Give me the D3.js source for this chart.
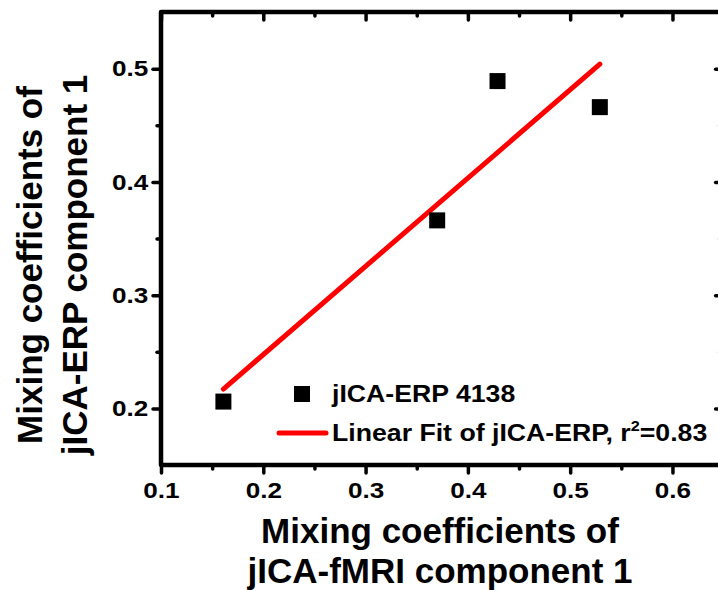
<!DOCTYPE html>
<html>
<head>
<meta charset="utf-8">
<script src="https://cdn.jsdelivr.net/npm/d3@7"></script>
<style>
  body { margin: 0; background: #fff; }
  svg { display: block; font-family: "Liberation Sans", Arial, sans-serif; font-weight: bold; }
</style>
</head>
<body>
<div class="chart"></div>
<script>
// data points
const xVals = [0.161, 0.370, 0.429, 0.529];
const yVals = [0.206, 0.366, 0.489, 0.466];

// ticks
const xMajor = [0.1, 0.2, 0.3, 0.4, 0.5, 0.6];
const xMinor = [0.15, 0.25, 0.35, 0.45, 0.55];
const yMajor = [0.2, 0.3, 0.4, 0.5];
const yMinor = [0.25, 0.35, 0.45];

const seriesName = "jICA-ERP 4138";
const fitName = "Linear Fit of jICA-ERP, r";
const fitR2 = "=0.83";

const width = 718, height = 590;
const x = d3.scaleLinear().domain([0.1, 0.65]).range([161, 723.6]);
const y = d3.scaleLinear().domain([0.15, 0.55]).range([465, 12]);
const stretch = 1.16; // labels in the original are a bit wide

const svg = d3.select(".chart").append("svg")
    .attr("width", width)
    .attr("height", height);

// least squares fit
const n = xVals.length;
const mx = d3.mean(xVals), my = d3.mean(yVals);
let sxy = 0, sxx = 0;
for (let i = 0; i < n; i++) {
    sxy += (xVals[i] - mx) * (yVals[i] - my);
    sxx += (xVals[i] - mx) * (xVals[i] - mx);
}
const slope = sxy / sxx, icpt = my - slope * mx;
const fitX = d3.extent(xVals);

// axes
function styleAxis(g, w) {
    g.select(".domain").remove();
    g.selectAll(".tick line").attr("stroke", "#000").attr("stroke-width", w).attr("stroke-linecap", "round");
    g.selectAll(".tick text").attr("fill", "#000")
        .style("font-size", "22.5px").style("font-weight", "bold")
        .attr("transform", `scale(${stretch},1)`);
}

// bottom
svg.append("g").attr("transform", `translate(0,${y.range()[0]})`)
    .call(d3.axisBottom(x).tickValues(xMajor).tickSize(8).tickPadding(9).tickFormat(d3.format(".1f")))
    .call(g => styleAxis(g, 3.5));
svg.append("g").attr("transform", `translate(0,${y.range()[0]})`)
    .call(d3.axisBottom(x).tickValues(xMinor).tickSize(4).tickFormat(""))
    .call(g => styleAxis(g, 3.5));
// top
svg.append("g").attr("transform", `translate(0,${y.range()[1]})`)
    .call(d3.axisTop(x).tickValues(xMajor).tickSize(-8).tickFormat(""))
    .call(g => styleAxis(g, 3.5));
svg.append("g").attr("transform", `translate(0,${y.range()[1]})`)
    .call(d3.axisTop(x).tickValues(xMinor).tickSize(-4).tickFormat(""))
    .call(g => styleAxis(g, 3.5));
// left
svg.append("g").attr("transform", `translate(${x.range()[0]},0)`)
    .call(d3.axisLeft(y).tickValues(yMajor).tickSize(8).tickPadding(3).tickFormat(d3.format(".1f")))
    .call(g => styleAxis(g, 3.5));
svg.append("g").attr("transform", `translate(${x.range()[0]},0)`)
    .call(d3.axisLeft(y).tickValues(yMinor).tickSize(4).tickFormat(""))
    .call(g => styleAxis(g, 3.5));
// right
svg.append("g").attr("transform", `translate(${x.range()[1]},0)`)
    .call(d3.axisRight(y).tickValues(yMajor).tickSize(-8).tickFormat(""))
    .call(g => styleAxis(g, 3.5));
svg.append("g").attr("transform", `translate(${x.range()[1]},0)`)
    .call(d3.axisRight(y).tickValues(yMinor).tickSize(-4).tickFormat(""))
    .call(g => styleAxis(g, 3.5));

// frame
svg.append("rect")
    .attr("x", x.range()[0]).attr("y", y.range()[1])
    .attr("width", x.range()[1] - x.range()[0])
    .attr("height", y.range()[0] - y.range()[1])
    .attr("fill", "none").attr("stroke", "#000").attr("stroke-width", 4.5)
    .attr("stroke-linejoin", "round");

// fit line
svg.append("line")
    .attr("x1", x(fitX[0])).attr("y1", y(icpt + slope * fitX[0]))
    .attr("x2", x(fitX[1])).attr("y2", y(icpt + slope * fitX[1]))
    .attr("stroke", "#ff0000").attr("stroke-width", 5).attr("stroke-linecap", "round");

// points
const sz = 16;
svg.selectAll("rect.pt").data(xVals).enter().append("rect")
    .attr("class", "pt")
    .attr("x", (d, i) => x(d) - sz / 2)
    .attr("y", (d, i) => y(yVals[i]) - sz / 2)
    .attr("width", sz).attr("height", sz)
    .attr("fill", "#000");

// legend
const lg = svg.append("g").style("font-size", "23px");
lg.append("rect").attr("x", 302 - sz / 2).attr("y", 394 - sz / 2)
    .attr("width", sz).attr("height", sz).attr("fill", "#000");
lg.append("text").attr("transform", `translate(332,402) scale(${stretch},1)`).text(seriesName);
lg.append("line").attr("x1", 279).attr("x2", 326).attr("y1", 433).attr("y2", 433)
    .attr("stroke", "#ff0000").attr("stroke-width", 5).attr("stroke-linecap", "round");
const ft = lg.append("text").attr("transform", `translate(332,441) scale(${stretch},1)`);
ft.append("tspan").text(fitName);
ft.append("tspan").attr("dy", -10).style("font-size", "14px").text("2");
ft.append("tspan").attr("dy", 10).text(fitR2);

// axis titles
const xt = svg.append("text").attr("text-anchor", "middle").style("font-size", "35px");
xt.append("tspan").attr("x", 440).attr("y", 543).text("Mixing coefficients of");
xt.append("tspan").attr("x", 440).attr("y", 583).text("jICA-fMRI component 1");

const yt = svg.append("text").attr("text-anchor", "middle").style("font-size", "35px")
    .attr("transform", "translate(0,265) rotate(-90)");
yt.append("tspan").attr("x", 0).attr("y", 42).text("Mixing coefficients of");
yt.append("tspan").attr("x", 0).attr("y", 87).text("jICA-ERP component 1");
</script>
</body>
</html>
